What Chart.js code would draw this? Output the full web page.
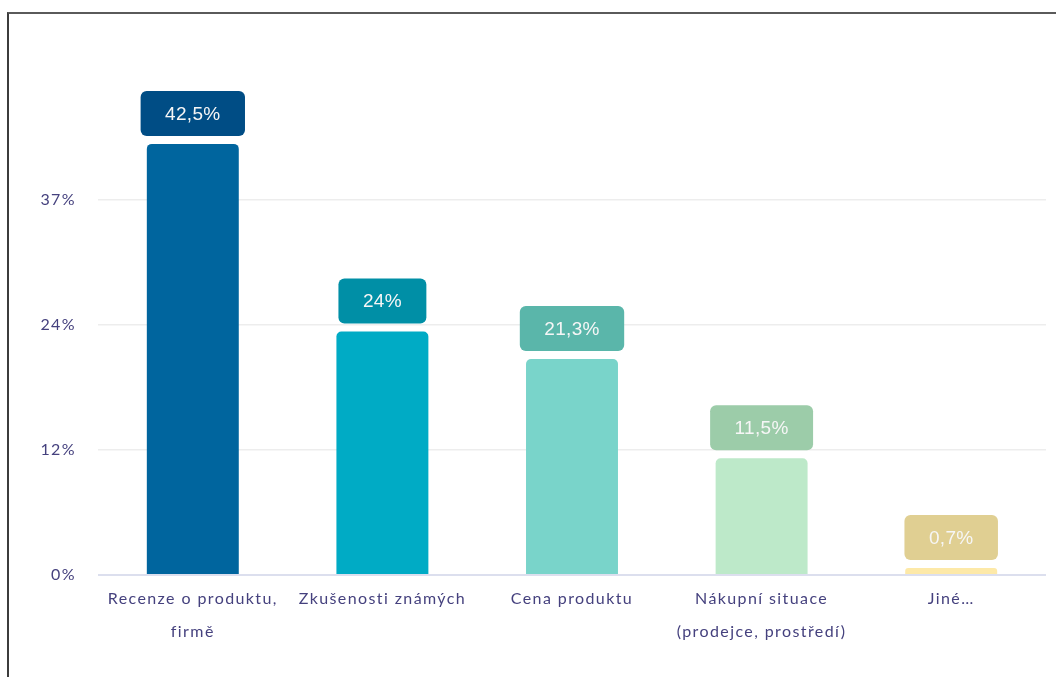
<!DOCTYPE html>
<html lang="cs">
<head>
<meta charset="utf-8">
<title>Co ovlivňuje výběr produktu</title>
<script src="https://cdn.jsdelivr.net/npm/chart.js@4.4.1/dist/chart.umd.min.js"></script>
<style>
  html, body { margin: 0; padding: 0; background: #ffffff; }
  #wrap { position: relative; width: 1056px; height: 677px; overflow: hidden; }
  #frame {
    position: absolute; left: 7px; top: 12px; right: 0; bottom: 0;
    border-top: 2px solid #5a5a5a; border-left: 2px solid #3c3c3c;
    pointer-events: none;
  }
  #chart { position: absolute; left: 0; top: 0; }
</style>
</head>
<body>
<div id="wrap">
  <canvas id="chart" width="1056" height="677"></canvas>
  <div id="frame"></div>
</div>
<script>
// Categories (multi-line axis labels)
const categories = [
  ['Recenze o produktu,', 'firmě'],
  ['Zkušenosti známých'],
  ['Cena produktu'],
  ['Nákupní situace', '(prodejce, prostředí)'],
  ['Jiné…']
];
// Share of respondents, in percent
const shares = [42.5, 24, 21.3, 11.5, 0.7];
// Y axis ticks and their printed labels
const tickValues = [0, 12.33, 24.67, 37];
const tickLabels = ['0%', '12%', '24%', '37%'];
// Bar fills and the darker badge colours above them
const barColors = ['#00659e', '#00abc5', '#79d4ca', '#bde9c9', '#fde9a8'];
const badgeColors = ['#004d85', '#008fa6', '#5ab6aa', '#9ccca9', '#e0cf92'];

const axisColor = '#45417e';
const axisFont = 'Lato, "Open Sans", sans-serif';
const axisSpacing = '1.4px';

function formatShare(v) {
  return String(v).replace('.', ',') + '%';
}

// Wider tracking for the axis text
const axisTracking = {
  id: 'axisTracking',
  beforeUpdate(chart) { chart.ctx.letterSpacing = axisSpacing; },
  beforeDraw(chart) { chart.ctx.letterSpacing = axisSpacing; }
};

// Draws the rounded value badge above each bar
const valueBadges = {
  id: 'valueBadges',
  afterDatasetsDraw(chart) {
    const ctx = chart.ctx;
    const meta = chart.getDatasetMeta(0);
    ctx.save();
    ctx.letterSpacing = '0.3px';
    ctx.font = '19px "Liberation Sans", Arial, sans-serif';
    ctx.textAlign = 'center';
    ctx.textBaseline = 'middle';
    meta.data.forEach((bar, i) => {
      const text = formatShare(shares[i]);
      const w = ctx.measureText(text).width + 49;
      const h = 45;
      const bottom = bar.y - 8;
      const top = bottom - h;
      ctx.fillStyle = badgeColors[i];
      ctx.beginPath();
      ctx.roundRect(bar.x - w / 2, top, w, h, 6);
      ctx.fill();
      ctx.fillStyle = '#f6f6f6';
      ctx.fillText(text, bar.x, top + h / 2 + 1);
    });
    ctx.restore();
  }
};

new Chart(document.getElementById('chart'), {
  type: 'bar',
  data: {
    labels: categories,
    datasets: [{
      data: shares,
      backgroundColor: barColors,
      borderRadius: 5,
      borderSkipped: 'start',
      categoryPercentage: 1,
      barPercentage: 0.485
    }]
  },
  options: {
    responsive: false,
    animation: false,
    layout: { padding: { top: 80, right: 10, left: 0, bottom: 0 } },
    plugins: {
      legend: { display: false },
      tooltip: { enabled: false }
    },
    scales: {
      x: {
        grid: { display: false, drawTicks: false },
        border: { display: false },
        afterFit(scale) { scale.height = 102; },
        ticks: {
          color: axisColor,
          padding: 7,
          maxRotation: 0,
          autoSkip: false,
          font: { family: axisFont, size: 16, lineHeight: 2.06 }
        }
      },
      y: {
        min: 0,
        max: 48.8,
        afterFit(scale) { scale.width = 98; },
        afterBuildTicks(scale) {
          scale.ticks = tickValues.map(v => ({ value: v }));
        },
        grid: {
          drawTicks: false,
          color: ctx => (ctx.tick && ctx.tick.value === 0) ? '#dcdfee' : '#ededed',
          lineWidth: ctx => (ctx.tick && ctx.tick.value === 0) ? 2 : 1.5
        },
        border: { display: false },
        ticks: {
          color: axisColor,
          padding: 22,
          font: { family: axisFont, size: 16 },
          callback: (value, index) => tickLabels[index]
        }
      }
    }
  },
  plugins: [axisTracking, valueBadges]
});
</script>
</body>
</html>
